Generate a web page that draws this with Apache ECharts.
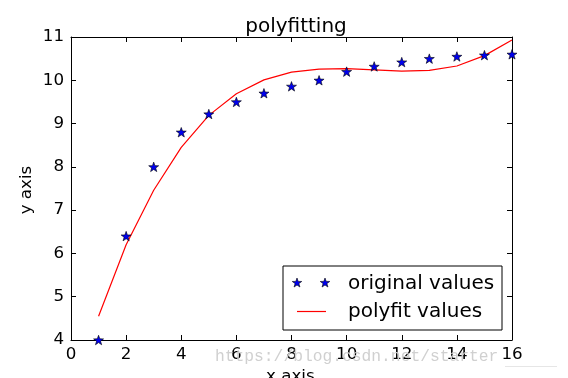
<!DOCTYPE html>
<html>
<head>
<meta charset="utf-8">
<script src="https://cdn.jsdelivr.net/npm/echarts@6/dist/echarts.min.js"></script>
<style>html,body{margin:0;padding:0;background:#fff}#c{width:568px;height:378px}</style>
</head>
<body>
<div id="c"></div>
<script>
var xValues = [1, 2, 3, 4, 5, 6, 7, 8, 9, 10, 11, 12, 13, 14, 15, 16];
var originalValues = [4.00, 6.40, 8.00, 8.80, 9.22, 9.50, 9.70, 9.86, 10.00, 10.20, 10.32, 10.42, 10.50, 10.55, 10.58, 10.60];
var polyfitValues = [4.55, 6.20, 7.46, 8.45, 9.19, 9.69, 10.01, 10.19, 10.26, 10.27, 10.24, 10.21, 10.23, 10.33, 10.57, 10.93];
var titleText = 'polyfitting';
var xName = 'x axis';
var yName = 'y axis';
var legendNames = ['original values', 'polyfit values'];
var watermark = 'https://blog.csdn.net/starter';

var FONT = 'DejaVu Sans';
var starPath = 'path://M0,-10L2.35,-3.24L9.51,-3.09L3.8,1.24L5.88,8.09L0,4L-5.88,8.09L-3.8,1.24L-9.51,-3.09L-2.35,-3.24Z';

function starPoints(cx, cy, r) {
  var pts = [];
  for (var i = 0; i < 10; i++) {
    var rr = i % 2 === 0 ? r : r * 0.4;
    var a = -Math.PI / 2 + i * Math.PI / 5;
    pts.push([cx + rr * Math.cos(a), cy + rr * Math.sin(a)]);
  }
  return pts;
}

var chart = echarts.init(document.getElementById('c'), null, {renderer: 'canvas'});
var gridL = 71, gridR = 56, gridT = 37, gridB = 38;

function xAx(pos, show) {
  return {
    type: 'value', position: pos, min: 0, max: 16, interval: 2,
    axisLine: {show: true, onZero: false, lineStyle: {color: '#000', width: 1}},
    axisTick: {show: true, inside: true, length: 5, lineStyle: {color: '#000', width: 1}},
    axisLabel: {show: show, color: '#000', fontSize: 16.7, fontFamily: FONT, margin: 6},
    splitLine: {show: false}
  };
}
function yAx(pos, show) {
  return {
    type: 'value', position: pos, min: 4, max: 11, interval: 1,
    axisLine: {show: true, onZero: false, lineStyle: {color: '#000', width: 1}},
    axisTick: {show: true, inside: true, length: 5, lineStyle: {color: '#000', width: 1}},
    axisLabel: {show: show, color: '#000', fontSize: 16.7, fontFamily: FONT, margin: 7},
    splitLine: {show: false}
  };
}

var lx = 283, ly = 266, lw = 219, lh = 64;

chart.setOption({
  animation: false,
  backgroundColor: '#fff',
  title: {
    text: titleText, left: 291, top: 12, textAlign: 'center',
    textStyle: {fontFamily: FONT, fontSize: 20, fontWeight: 'normal', color: '#000'}
  },
  grid: {left: gridL, right: gridR, top: gridT, bottom: gridB},
  xAxis: [xAx('bottom', true), xAx('top', false)],
  yAxis: [yAx('left', true), yAx('right', false)],
  series: [
    {
      name: legendNames[0], type: 'scatter', xAxisIndex: 0, yAxisIndex: 0,
      data: xValues.map(function (x, i) { return [x, originalValues[i]]; }),
      symbol: starPath, symbolKeepAspect: true, symbolSize: 10,
      itemStyle: {color: '#0000ee', borderColor: '#000', borderWidth: 0.6, opacity: 1},
      z: 3
    },
    {
      name: legendNames[1], type: 'line', xAxisIndex: 0, yAxisIndex: 0,
      data: xValues.map(function (x, i) { return [x, polyfitValues[i]]; }),
      showSymbol: false, symbol: 'none',
      lineStyle: {color: '#ff0000', width: 1.2},
      z: 2
    }
  ],
  graphic: [
    {type: 'text', left: 266, top: 368, style: {text: xName, font: '16.7px "DejaVu Sans"', fill: '#000'}},
    {type: 'text', x: 27, y: 190, rotation: Math.PI / 2, style: {text: yName, font: '16.7px "DejaVu Sans"', fill: '#000', textAlign: 'center', textVerticalAlign: 'middle'}},
    {type: 'rect', shape: {x: lx, y: ly, width: lw, height: lh}, style: {fill: '#fff', stroke: '#000', lineWidth: 1}, z: 10},
    {type: 'polygon', shape: {points: starPoints(297, 283, 5)}, style: {fill: '#0000ee', stroke: '#000', lineWidth: 0.6}, z: 11},
    {type: 'polygon', shape: {points: starPoints(325, 283, 5)}, style: {fill: '#0000ee', stroke: '#000', lineWidth: 0.6}, z: 11},
    {type: 'line', shape: {x1: 297, y1: 311.5, x2: 326, y2: 311.5}, style: {stroke: '#ff0000', lineWidth: 1.2}, z: 11},
    {type: 'text', x: 348, y: 284, style: {text: legendNames[0], font: '20px "DejaVu Sans"', fill: '#000', textVerticalAlign: 'middle'}, z: 11},
    {type: 'text', x: 348, y: 312, style: {text: legendNames[1], font: '20px "DejaVu Sans"', fill: '#000', textVerticalAlign: 'middle'}, z: 11},
    {type: 'text', x: 215, y: 357, style: {text: watermark, font: '16.3px "Liberation Mono"', fill: '#d0d0d0', textVerticalAlign: 'middle'}, z: 20},
    {type: 'line', shape: {x1: 505, y1: 366.5, x2: 557, y2: 366.5}, style: {stroke: '#e6e6e6', lineWidth: 1}, z: 20}
  ]
});
</script>
</body>
</html>
